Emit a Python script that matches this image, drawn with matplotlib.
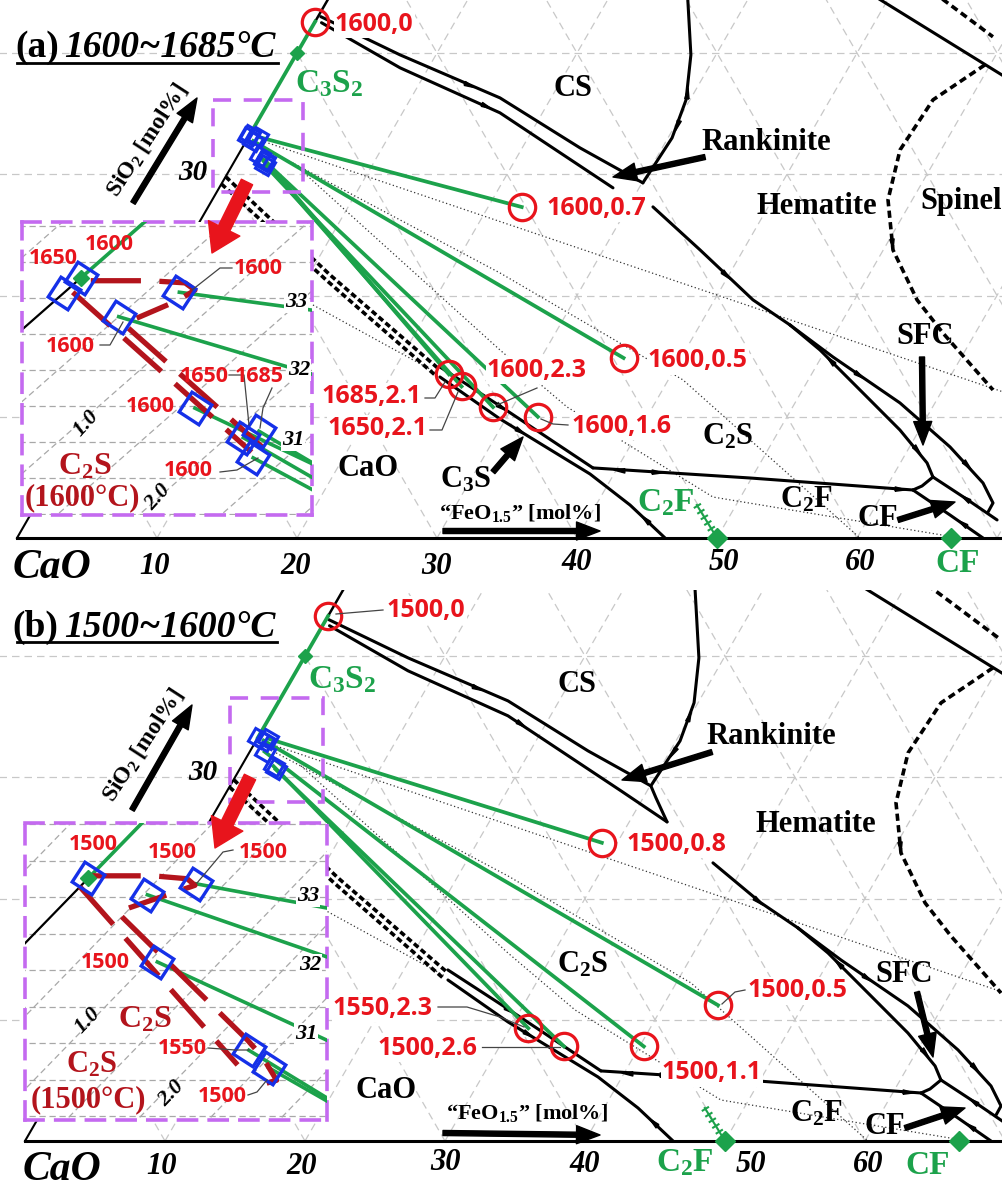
import numpy as np
import matplotlib
matplotlib.use("Agg")
import matplotlib.pyplot as plt
from matplotlib.patches import Rectangle

plt.rcParams['mathtext.fontset'] = 'custom'
plt.rcParams['mathtext.rm'] = 'Liberation Serif:bold'
plt.rcParams['mathtext.it'] = 'Liberation Serif:bold:italic'
plt.rcParams['mathtext.bf'] = 'Liberation Serif:bold'

W, H = 1003, 1188
RED = '#e8141c'; BLUE = '#1530e8'; GREEN = '#1ca24b'
DRED = '#b3141c'; VIOLET = '#c46af0'; GRID = '#c8c8c8'; IGRID = '#a8a8a8'

# ============ DATA : compositions in mol% (FeO1.5, SiO2) ============
# ---- panel (a) 1600~1685 C : liquids (red circles) / coexisting C2S (blue diamonds)
a_liq_label = ['1600,0', '1600,0.7', '1600,0.5', '1685,2.1', '1650,2.1', '1600,2.3', '1600,1.6']
a_liq_fe = [0.0, 22.4, 35.9, 24.1, 25.5, 28.6, 32.2]
a_liq_si = [42.6, 27.3, 14.85, 13.5, 12.5, 10.8, 10.0]
a_sol_fe = [0.0, 0.7, 0.5, 2.15, 2.1, 2.3, 1.6]
a_sol_si = [33.28, 33.08, 32.74, 31.15, 31.06, 30.78, 31.47]
a_sol_temp = ['1600', '1600', '1600', '1685', '1650', '1600', '1600']
a_bin_fe = [0.0]      # 1650 C C2S on the CaO-SiO2 join
a_bin_si = [33.07]
# C2S solid-solution limits (dark red dashed), panel a
a_ss1_fe = [0.08, 0.44, 0.67, 0.78, 0.75, 0.62]
a_ss1_si = [33.24, 33.24, 33.21, 33.11, 32.97, 32.72]
a_ss2_fe = [0.05, 2.25]
a_ss2_si = [33.08, 30.86]
a_ss3_fe = [0.64, 2.29]
a_ss3_si = [32.58, 30.92]

# ---- panel (b) 1500~1600 C
b_liq_label = ['1500,0', '1500,0.5', '1500,0.8', '1500,1.1', '1550,2.3', '1500,2.6']
b_liq_fe = [0.0, 43.9, 28.9, 40.3, 31.3, 34.6]
b_liq_si = [43.3, 11.2, 24.6, 7.8, 9.3, 7.8]
b_sol_fe = [0.0, 0.53, 0.8, 1.06, 2.31, 2.57]
b_sol_si = [33.26, 33.03, 33.18, 32.11, 30.9, 30.66]
b_sol_temp = ['1500', '1500', '1500', '1500', '1550', '1500']
b_ss1_fe = [0.0, 0.3, 0.44, 0.7, 0.8, 0.69, 0.49]
b_ss1_si = [33.29, 33.29, 33.29, 33.25, 33.16, 33.05, 32.85]
b_ss2_fe = [0.0, 2.33]
b_ss2_si = [33.14, 30.70]
b_ss3_fe = [0.5, 2.23, 2.45, 2.71, 2.66]
b_ss3_si = [32.73, 31.04, 30.81, 30.49, 30.45]

# ---- liquidus boundary lines (shared)
cs_u_fe = [0.2, 7.43, 16.35, 24.12, 30.06]
cs_u_si = [43.0, 39.85, 36.30, 32.18, 29.29]
cs_l_a_fe = [0.5, 7.97, 16.96, 28.13]
cs_l_a_si = [42.5, 38.78, 35.07, 28.88]
cs_l_b_fe = [0.5, 7.97, 16.96, 28.13, 32.7]
cs_l_b_si = [42.5, 38.78, 35.07, 28.88, 26.32]
rank_a_fe = [25.04, 28.21, 29.72, 30.29, 30.06]
rank_a_si = [45.63, 39.85, 36.14, 33.0, 29.29]
rank_b_fe = [25.04, 28.21, 29.72, 30.29, 30.06, 30.92, 32.7]
rank_b_si = [45.63, 39.85, 36.14, 33.0, 29.29, 28.3, 26.32]
hem_a_fe = [31.77, 36.91, 42.75, 46.43]
hem_a_si = [27.31, 23.76, 19.64, 17.57]
hem_b_fe = [37.67, 42.75, 46.43]
hem_b_si = [22.94, 19.64, 17.57]
sfc_in_fe = [46.43, 49.6, 54.9, 58.61, 61.91, 62.91]
sfc_in_si = [17.57, 15.51, 11.63, 8.91, 6.19, 5.03]
sfc_out_fe = [46.43, 50.82, 57.5, 62.89, 66.73, 68.27, 68.29]
sfc_out_si = [17.57, 14.93, 11.14, 7.51, 4.54, 2.89, 2.15]
cf_top_fe = [62.91, 66.06, 69.26]
cf_top_si = [5.03, 3.30, 1.49]
c2f_cf_fe = [62.02, 65.69, 69.0]
c2f_cf_si = [3.96, 1.90, 0.0]
junc_fe = [62.02, 62.5, 62.91]
junc_si = [3.96, 4.29, 5.03]
c2s_c2f_fe = [38.25, 49.88, 62.02]
c2s_c2f_si = [5.78, 4.95, 3.96]
c3s_u_fe = [23.15, 29.05, 38.25]
c3s_u_si = [14.11, 10.89, 5.78]
c3s_l_fe = [23.57, 29.59, 38.29, 42.43, 46.29]
c3s_l_si = [13.28, 9.82, 5.28, 2.72, 0.0]
cao_a_fe = [0.0, 11.51, 23.28]
cao_a_si = [29.8, 21.7, 13.86]
cao_b_fe = [0.0, 11.43, 23.25]
cao_b_si = [29.2, 21.29, 13.37]
top_fe = [35.56, 52.0]
top_si = [46.45, 37.8]
spinel_fe = [49.63, 47.36, 47.07, 48.27, 50.69, 54.47, 57.68, 63.61]
spinel_si = [39.03, 36.14, 32.01, 27.89, 23.76, 19.64, 16.91, 12.21]
spinel2_fe = [40.56, 49.04]
spinel2_si = [46.45, 41.34]
# thin dotted lines
dot_fe = [[1.37, 64.41], [1.93, 23.57, 41.05, 60.21],
          [4.24, 26.74, 33.88, 48.02, 67.36], [11.53, 23.19]]
dot_si = [[32.67, 12.05], [32.01, 21.86, 13.04, 0.0],
          [30.94, 15.51, 10.81, 3.38, 0.0], [19.22, 13.61]]
# compounds
c3s2 = (0.0, 40.0)
c2f = (50.0, 0.0)
cf = (66.7, 0.0)
c2f_ss_fe = [47.2, 50.0]
c2f_ss_si = [2.72, 0.0]
grid_si = [10, 20, 30, 40]
grid_fe = [10, 20, 30, 40, 50, 60, 70]
grid_cao = [10, 20, 30, 40, 50, 60, 70, 80, 90]
tick_vals = ['10', '20', '30', '40', '50', '60']

# ============ helpers ============
K = np.sqrt(3) / 2


def proj(fe, si):
    fe = np.asarray(fe, float); si = np.asarray(si, float)
    return fe + si / 2, si * K


def pin(fe, si):
    fe = np.asarray(fe, float); si = np.asarray(si, float)
    return fe + si / 2, si


def line(ax, fe, si, P=proj, **kw):
    x, y = P(fe, si)
    ax.plot(x, y, **kw)


def heads(ax, fe, si, fracs, size=8):
    X, Y = proj(fe, si)
    d = np.hypot(np.diff(X), np.diff(Y))
    s = np.r_[0, np.cumsum(d)]
    for f in fracs:
        t = abs(f) * s[-1]
        i = int(np.clip(np.searchsorted(s, t, side='right') - 1, 0, len(d) - 1))
        u = (t - s[i]) / d[i]
        px = X[i] + u * (X[i + 1] - X[i]); py = Y[i] + u * (Y[i + 1] - Y[i])
        ang = np.arctan2(Y[i + 1] - Y[i], X[i + 1] - X[i]) + (np.pi if f < 0 else 0)
        c, sn = np.cos(ang), np.sin(ang)
        verts = [(-1, -0.4), (1, 0), (-1, 0.4), (-1, -0.4)]
        rv = [(x * c - y * sn, x * sn + y * c) for x, y in verts]
        ax.plot([px], [py], marker=rv, ms=size, color='k', lw=0, zorder=4)


fig = plt.figure(figsize=(W / 100, H / 100), dpi=100)
fig.patch.set_facecolor('white')

ax_a = fig.add_axes([0, 1 - 590 / H, 1, 590 / H])
ax_a.set_xlim(-17 / 14, 986 / 14); ax_a.set_ylim(-52 / 14, 538 / 14)
ax_b = fig.add_axes([0, 0, 1, 598 / H])
ax_b.set_xlim(-25 / 14, 978 / 14); ax_b.set_ylim(-47 / 14, 551 / 14)
for ax in (ax_a, ax_b):
    ax.axis('off')

BK = dict(color='k', lw=2.2, zorder=3, solid_capstyle='round')
DIA = dict(ls='none', marker=(4, 0, 15), ms=15, mfc='none', mec=BLUE, mew=2.2, zorder=6)


def draw_panel(ax, liq_fe, liq_si, sol_fe, sol_si, csl, rank, hem, cao_pair):
    gk = dict(color=GRID, lw=0.9, ls=(0, (6, 4)), zorder=1)
    for s in grid_si:
        line(ax, [-40, 90], [s, s], **gk)
    for f in grid_fe:
        line(ax, [f, f], [0, 100 - f], **gk)
    for c in grid_cao:
        line(ax, [100 - c, 0], [0, 100 - c], **gk)
    line(ax, [0, 75], [0, 0], color='k', lw=2.2, zorder=3)
    line(ax, [0, 0], [0, sol_si[0]], color='k', lw=1.5, zorder=3)
    line(ax, [0, 0], [liq_si[0], 52], color='k', lw=1.8, zorder=3)
    for fe, si in zip(dot_fe, dot_si):
        line(ax, fe, si, color='#333333', lw=0.9, ls=(0, (1, 2)), zorder=2)
    curves = [(cs_u_fe, cs_u_si), csl, rank, hem, (sfc_in_fe, sfc_in_si),
              (sfc_out_fe, sfc_out_si), (cf_top_fe, cf_top_si), (c2f_cf_fe, c2f_cf_si),
              (junc_fe, junc_si), (c2s_c2f_fe, c2s_c2f_si), (c3s_u_fe, c3s_u_si),
              (c3s_l_fe, c3s_l_si), (top_fe, top_si)]
    for fe, si in curves:
        line(ax, fe, si, **BK)
    for fe, si in cao_pair:
        line(ax, fe, si, color='k', lw=2.6, ls=(0, (1.6, 0.9)), zorder=3)
    for fe, si in [(spinel_fe, spinel_si), (spinel2_fe, spinel2_si)]:
        line(ax, fe, si, color='k', lw=2.6, ls=(0, (2.0, 1.2)), zorder=3)
    heads(ax, cs_u_fe, cs_u_si, [0.45])
    heads(ax, csl[0], csl[1], [0.55])
    heads(ax, rank[0], rank[1], [-0.52, 0.68])
    heads(ax, hem[0], hem[1], [0.55])
    heads(ax, sfc_in_fe, sfc_in_si, [-0.25, 0.85])
    heads(ax, sfc_out_fe, sfc_out_si, [0.3, 0.8])
    heads(ax, c2s_c2f_fe, c2s_c2f_si, [-0.08, 0.2, 0.96])
    heads(ax, c3s_u_fe, c3s_u_si, [0.4])
    heads(ax, c3s_l_fe, c3s_l_si, [0.35, -0.9])
    heads(ax, c2f_cf_fe, c2f_cf_si, [-0.7])
    heads(ax, cf_top_fe, cf_top_si, [-0.5])
    heads(ax, spinel_fe, spinel_si, [0.55])
    # tie lines
    for sf, ss, lf, ls_ in zip(sol_fe, sol_si, liq_fe, liq_si):
        line(ax, [sf, lf], [ss, ls_], color=GREEN, lw=2.7, zorder=4)
    # C2F solid solution comb
    line(ax, c2f_ss_fe, c2f_ss_si, color=GREEN, lw=1.5, zorder=4)
    line(ax, c2f_ss_fe, c2f_ss_si, color=GREEN, lw=6, ls=(0, (0.25, 0.55)),
         dash_capstyle='butt', zorder=4)
    x, y = proj(liq_fe, liq_si)
    ax.plot(x, y, 'o', ms=19, mfc='none', mec=RED, mew=2.3, zorder=7)
    x, y = proj(sol_fe, sol_si)
    ax.plot(x, y, **DIA)
    x, y = proj(*c3s2)
    ax.plot(x, y, 'D', ms=7, color=GREEN, zorder=6)
    for comp in (c2f, cf):
        x, y = proj(*comp)
        ax.plot(x, y, 'D', ms=10, color=GREEN, zorder=6)


draw_panel(ax_a, a_liq_fe, a_liq_si, a_sol_fe, a_sol_si, (cs_l_a_fe, cs_l_a_si),
           (rank_a_fe, rank_a_si), (hem_a_fe, hem_a_si),
           [(cao_a_fe, cao_a_si), (cao_b_fe, cao_b_si)])
x, y = proj(a_bin_fe, a_bin_si)
ax_a.plot(x, y, **DIA)
draw_panel(ax_b, b_liq_fe, b_liq_si, b_sol_fe, b_sol_si, (cs_l_b_fe, cs_l_b_si),
           (rank_b_fe, rank_b_si), (hem_b_fe, hem_b_si),
           [(cao_a_fe, cao_a_si), (cao_b_fe, cao_b_si)])


# ============ insets ============
def make_inset(box, x0, sh, y33, sv):
    l, t, r, b = box
    axi = fig.add_axes([l / W, 1 - b / H, (r - l) / W, (b - t) / H], zorder=5)
    axi.set_xlim((l - x0) / sh, (r - x0) / sh)
    axi.set_ylim(33 - (b - y33) / sv, 33 + (y33 - t) / sv)
    axi.set_facecolor('white')
    axi.set_xticks([]); axi.set_yticks([])
    for sp in axi.spines.values():
        sp.set_linestyle((0, (5, 3.5))); sp.set_color(VIOLET); sp.set_linewidth(2.6)
    return axi


IDIA = dict(ls='none', marker=(4, 0, 12), ms=24, mfc='none', mec=BLUE, mew=2.4, zorder=5)


def draw_inset(axi, sol_fe, sol_si, liq_fe, liq_si, ss, extra=None):
    gk = dict(color=IGRID, lw=0.9, ls=(0, (5, 3)), zorder=1)
    for s in np.arange(29.5, 34.6, 0.5):
        line(axi, [-20, 20], [s, s], P=pin, **gk)
    for f in np.arange(-1.0, 4.01, 0.5):
        line(axi, [f, f], [28, 36], P=pin, **gk)
    line(axi, [0, 0], [28, sol_si[0]], P=pin, color='k', lw=1.6, zorder=2)
    for sf, ssi, lf, lsi in zip(sol_fe, sol_si, liq_fe, liq_si):
        line(axi, [sf, lf], [ssi, lsi], P=pin, color=GREEN, lw=2.6, zorder=3)
    for fe, si in ss:
        line(axi, fe, si, P=pin, color=DRED, lw=3.8, ls=(0, (9.5, 3.5)),
             dash_capstyle='butt', zorder=4)
    x, y = pin(sol_fe, sol_si)
    axi.plot(x, y, **IDIA)
    x, y = pin(sol_fe[0], sol_si[0])
    axi.plot(x, y, 'D', ms=8, color=GREEN, zorder=5)
    if extra is not None:
        x, y = pin(*extra)
        axi.plot(x, y, **IDIA)


ia = make_inset((22, 222, 312, 515), -2648, 164, 298, 72)
draw_inset(ia, a_sol_fe, a_sol_si, a_liq_fe, a_liq_si,
           [(a_ss1_fe, a_ss1_si), (a_ss2_fe, a_ss2_si), (a_ss3_fe, a_ss3_si)],
           extra=(a_bin_fe, a_bin_si))
ib = make_inset((25, 823, 327, 1120), -2273, 142, 897, 73)
draw_inset(ib, b_sol_fe, b_sol_si, b_liq_fe, b_liq_si,
           [(b_ss1_fe, b_ss1_si), (b_ss2_fe, b_ss2_si), (b_ss3_fe, b_ss3_si)])

# ============ overlay: labels / arrows ============
ax_o = fig.add_axes([0, 0, 1, 1], zorder=10)
ax_o.set_xlim(0, W); ax_o.set_ylim(H, 0); ax_o.axis('off')

SER = 'Liberation Serif'
SANS = 'Open Sans'


def T(x, y, s, size, color='k', style='normal', family=SER, weight='bold',
      ha='center', va='center', rot=0, bg=False, z=20):
    kw = {}
    if bg:
        kw['bbox'] = dict(boxstyle='square,pad=0.05', fc='white', ec='none')
    ax_o.text(x, y, s, fontsize=size, color=color, fontstyle=style, family=family,
              fontweight=weight, ha=ha, va=va, rotation=rot, rotation_mode='anchor',
              zorder=z, **kw)


def ARW(x0, y0, x1, y1, color='k', tail=0.28, hw=1.0, hl=1.3, ms=13, z=18):
    ax_o.annotate('', xy=(x1, y1), xytext=(x0, y0),
                  arrowprops=dict(arrowstyle=f'simple,head_length={hl},head_width={hw},tail_width={tail}',
                                  color=color, mutation_scale=ms, shrinkA=0, shrinkB=0),
                  zorder=z)


def LEAD(pts):
    xs, ys = zip(*pts)
    ax_o.plot(xs, ys, color='#444444', lw=0.9, zorder=15)


def BOX(l, t, r, b):
    ax_o.add_patch(Rectangle((l, t), r - l, b - t, fill=False, ec=VIOLET, lw=2.6,
                             ls=(0, (5, 3.5)), zorder=12))


C2S = r'C$_\mathrm{2}$S'
FEO = r'“FeO$_\mathrm{1.5}$” [mol%]'
SIO = r'SiO$_\mathrm{2}$ [mol%]'

# ---------- panel a ----------
T(15, 57, '(a)', 27, ha='left', va='baseline')
T(64, 57, '1600~1685°C', 27, style='italic', ha='left', va='baseline')
ax_o.plot([17, 278], [63, 63], color='k', lw=2, zorder=15)
T(329, 84, r'C$_\mathrm{3}$S$_\mathrm{2}$', 24, color=GREEN)
T(147, 140, SIO, 17, rot=57)
ARW(133, 203, 197, 98)
T(193, 172, '30', 21, style='italic')
BOX(213, 100, 303, 192)
ARW(247, 182, 212, 253, color=RED, tail=0.5, hw=1.4, hl=1.1, ms=18)
T(573, 88, 'CS', 22)
T(766, 142, 'Rankinite', 22)
ARW(705, 157, 613, 177)
T(817, 206, 'Hematite', 22)
T(1002, 201, 'Spinel', 22, ha='right')
T(925, 337, 'SFC', 22)
ARW(922, 357, 923, 445)
T(728, 437, C2S, 22)
T(806, 500, r'C$_\mathrm{2}$F', 22)
T(878, 519, 'CF', 22)
ARW(898, 520, 955, 502)
T(666, 503, r'C$_\mathrm{2}$F', 24, color=GREEN)
T(958, 563, 'CF', 24, color=GREEN)
T(368, 469, 'CaO', 22)
T(466, 480, r'C$_\mathrm{3}$S', 22)
ARW(493, 472, 523, 437)
T(520, 513, FEO, 16)
ARW(443, 531, 600, 531)
T(52, 568, 'CaO', 30, style='italic')
for s, (tx, ty) in zip(tick_vals, [(155, 566), (296, 566), (436, 566), (577, 563), (724, 563), (860, 562)]):
    T(tx, ty, s, 22, style='italic')
# red liquid labels
for s, (tx, ty) in zip(a_liq_label, [(335, 24), (547, 208), (648, 361), (322, 397), (328, 429), (487, 370), (572, 426)]):
    T(tx, ty, s, 18, color=RED, family=SANS, ha='left', bg=True)
LEAD([(425, 398), (435, 398), (445, 382)])
LEAD([(430, 430), (442, 430), (458, 392)])
LEAD([(537, 388), (497, 405)])
LEAD([(541, 419), (553, 424), (568, 425)])
# inset a labels
for s, (tx, ty) in zip(['1650', '1600', '1600', '1600', '1650', '1685', '1600', '1600'],
                       [(53, 258), (109, 245), (258, 269), (70, 346), (204, 376), (259, 376), (150, 407), (188, 471)]):
    T(tx, ty, s, 15.5, color=RED, family=SANS)
LEAD([(232, 268), (220, 268), (192, 290)])
LEAD([(100, 345), (110, 345), (123, 322)])
LEAD([(229, 375), (244, 375), (249, 425)])
LEAD([(272, 388), (263, 408), (260, 428)])
LEAD([(220, 472), (237, 470), (258, 458)])
for s, (tx, ty) in zip(['33', '32', '31'], [(296, 302), (299, 370), (293, 440)]):
    T(tx, ty, s, 16, style='italic', bg=True, z=22)
T(86, 423, '1.0', 16, style='italic', rot=48)
T(158, 497, '2.0', 16, style='italic', rot=48)
T(85, 467, C2S, 23, color=DRED)
T(82, 498, '(1600°C)', 22, color=DRED)

# ---------- panel b ----------
T(12, 637, '(b)', 27, ha='left', va='baseline')
T(64, 637, '1500~1600°C', 27, style='italic', ha='left', va='baseline')
ax_o.plot([17, 277], [642, 642], color='k', lw=2, zorder=15)
T(342, 680, r'C$_\mathrm{3}$S$_\mathrm{2}$', 24, color=GREEN)
T(143, 745, SIO, 17, rot=57)
ARW(132, 810, 192, 705)
T(203, 773, '30', 21, style='italic')
BOX(230, 698, 323, 802)
ARW(250, 777, 215, 848, color=RED, tail=0.5, hw=1.4, hl=1.1, ms=18)
T(577, 684, 'CS', 22)
T(771, 737, 'Rankinite', 22)
ARW(712, 752, 622, 780)
T(816, 824, 'Hematite', 22)
T(904, 974, 'SFC', 22)
ARW(917, 992, 933, 1057)
T(583, 965, C2S, 22)
T(816, 1114, r'C$_\mathrm{2}$F', 22)
T(885, 1127, 'CF', 22)
ARW(905, 1128, 965, 1108)
T(685, 1163, r'C$_\mathrm{2}$F', 24, color=GREEN)
T(928, 1165, 'CF', 24, color=GREEN)
T(386, 1091, 'CaO', 22)
T(527, 1113, FEO, 16)
ARW(443, 1133, 600, 1135)
T(62, 1170, 'CaO', 30, style='italic')
for s, (tx, ty) in zip(tick_vals, [(162, 1166), (302, 1166), (445, 1163), (585, 1165), (751, 1165), (868, 1165)]):
    T(tx, ty, s, 22, style='italic')
for s, (tx, ty) in zip(b_liq_label, [(387, 610), (748, 991), (627, 844), (662, 1073), (333, 1008), (378, 1048)]):
    T(tx, ty, s, 18, color=RED, family=SANS, ha='left', bg=True)
LEAD([(383, 610), (336, 614)])
LEAD([(745, 990), (735, 992), (722, 1004)])
LEAD([(438, 1007), (467, 1007), (500, 1017), (524, 1027)])
LEAD([(482, 1047), (560, 1047)])
for s, (tx, ty) in zip(['1500', '1500', '1500', '1500', '1550', '1500'],
                       [(93, 845), (172, 852), (263, 852), (105, 962), (182, 1049), (222, 1097)]):
    T(tx, ty, s, 15.5, color=RED, family=SANS)
LEAD([(233, 850), (223, 852), (197, 883)])
LEAD([(208, 1048), (235, 1050), (249, 1050)])
LEAD([(248, 1095), (257, 1092), (267, 1080)])
for s, (tx, ty) in zip(['33', '32', '31'], [(308, 896), (310, 965), (306, 1034)]):
    T(tx, ty, s, 16, style='italic', bg=True, z=22)
T(88, 1021, '1.0', 16, style='italic', rot=46)
T(171, 1094, '2.0', 16, style='italic', rot=46)
T(145, 1020, C2S, 23, color=DRED)
T(92, 1065, C2S, 22, color=DRED)
T(88, 1100, '(1500°C)', 22, color=DRED)

fig.savefig('out.png', dpi=100, facecolor='white')
